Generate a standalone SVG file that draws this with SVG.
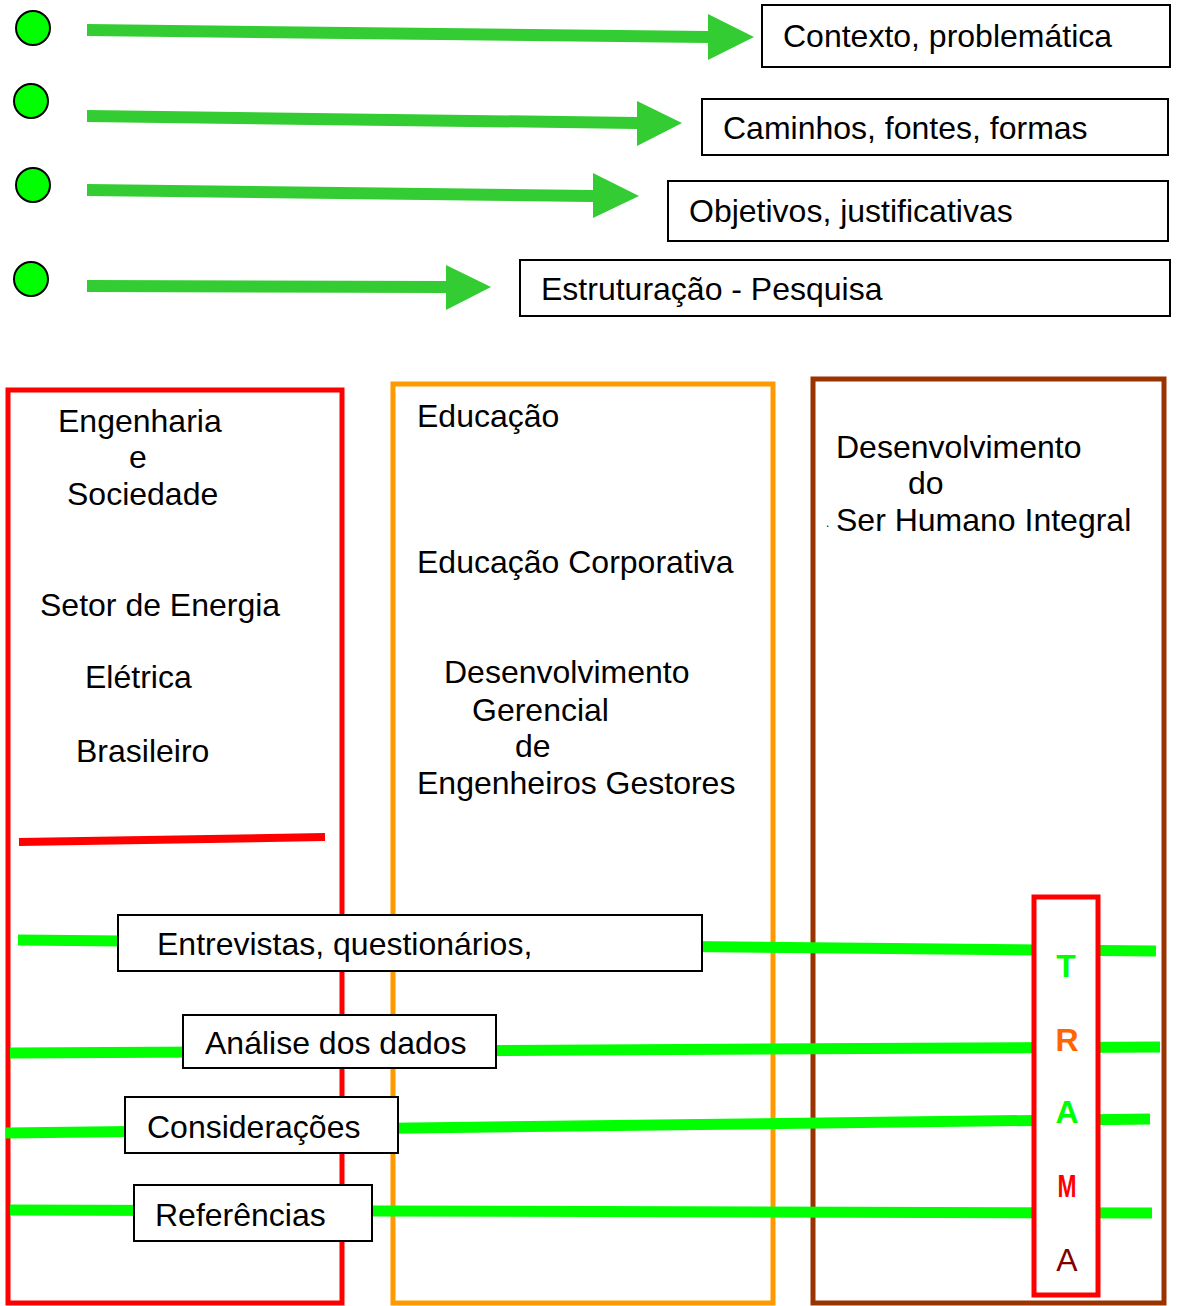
<svg xmlns="http://www.w3.org/2000/svg" width="1178" height="1306" viewBox="0 0 1178 1306">
<style>
.t{font-family:"Liberation Sans",Arial,sans-serif;font-size:32px;fill:#000}
.tb{font-family:"Liberation Sans",Arial,sans-serif;font-size:32px;font-weight:bold}
.box{fill:#fff;stroke:#000;stroke-width:2}
.dot{fill:#00ff00;stroke:#000;stroke-width:2}
.arr{fill:#33cc33}
.gl{stroke:#00ff00;stroke-width:11;fill:none}
.col{fill:none;stroke-width:5}
</style>
<rect width="1178" height="1306" fill="#fff"/>
<g id="bullets">
<circle class="dot" cx="33" cy="28" r="17"/>
<circle class="dot" cx="31" cy="101" r="17"/>
<circle class="dot" cx="33" cy="185" r="17"/>
<circle class="dot" cx="31" cy="279" r="17"/>
</g>
<g id="columns">
<rect id="col-engenharia" class="col" x="8" y="390" width="334" height="913" stroke="#ff0000"/>
<rect id="col-educacao" class="col" x="393" y="384" width="380" height="919" stroke="#ff9900"/>
<rect id="col-desenvolvimento" class="col" x="813" y="379" width="351" height="924" stroke="#993300"/>
<line x1="19" y1="842" x2="325" y2="837" stroke="#ff0000" stroke-width="8"/>
</g>
<g id="connectors">
<polygon class="arr" points="87,24 708,31 708,14 754,37 708,60 708,43 87,36"/>
<polygon class="arr" points="87,110 637,117 637,101 682,123 637,146 637,129 87,122"/>
<polygon class="arr" points="87,184 593,190 593,173 639,196 593,218 593,202 87,196"/>
<polygon class="arr" points="87,280 446,281 446,265 491,287 446,310 446,293 87,292"/>
<line class="gl" x1="18" y1="940" x2="1156" y2="951"/>
<line class="gl" x1="10" y1="1053" x2="1160" y2="1047"/>
<line class="gl" x1="6" y1="1133" x2="1150" y2="1119"/>
<line class="gl" x1="10" y1="1210" x2="1152" y2="1213"/>
</g>
<g id="node-contexto"><rect class="box" x="762" y="5" width="408" height="62"/><text class="t" x="783" y="47">Contexto, problemática</text></g>
<g id="node-caminhos"><rect class="box" x="702" y="99" width="466" height="56"/><text class="t" x="723" y="139">Caminhos, fontes, formas</text></g>
<g id="node-objetivos"><rect class="box" x="668" y="181" width="500" height="60"/><text class="t" x="689" y="222">Objetivos, justificativas</text></g>
<g id="node-estruturacao"><rect class="box" x="520" y="260" width="650" height="56"/><text class="t" x="541" y="300">Estruturação - Pesquisa</text></g>
<g id="text-engenharia">
<text class="t" x="58" y="432">Engenharia</text>
<text class="t" x="129" y="468">e</text>
<text class="t" x="67" y="505">Sociedade</text>
<text class="t" x="40" y="616">Setor de Energia</text>
<text class="t" x="85" y="688">Elétrica</text>
<text class="t" x="76" y="762">Brasileiro</text>
</g>
<g id="text-educacao">
<text class="t" x="417" y="427">Educação</text>
<text class="t" x="417" y="573">Educação Corporativa</text>
<text class="t" x="444" y="683">Desenvolvimento</text>
<text class="t" x="472" y="721">Gerencial</text>
<text class="t" x="515" y="757">de</text>
<text class="t" x="417" y="794">Engenheiros Gestores</text>
</g>
<g id="text-desenvolvimento">
<text class="t" x="836" y="458">Desenvolvimento</text>
<text class="t" x="908" y="494">do</text>
<text class="t" x="826" y="527" style="font-size:12px">.</text>
<text class="t" x="836" y="531">Ser Humano Integral</text>
</g>
<g id="node-entrevistas"><rect class="box" x="118" y="915" width="584" height="56"/><text class="t" x="157" y="955">Entrevistas, questionários,</text></g>
<g id="node-analise"><rect class="box" x="183" y="1015" width="313" height="53"/><text class="t" x="205" y="1054">Análise dos dados</text></g>
<g id="node-consideracoes"><rect class="box" x="125" y="1097" width="273" height="56"/><text class="t" x="147" y="1138">Considerações</text></g>
<g id="node-referencias"><rect class="box" x="134" y="1185" width="238" height="56"/><text class="t" x="155" y="1226">Referências</text></g>
<g id="node-trama">
<rect x="1034" y="897" width="64" height="398" fill="#fff" stroke="#ff0000" stroke-width="5"/>
<text class="tb" x="1066" y="977" text-anchor="middle" fill="#00ff00">T</text>
<text class="tb" x="1067" y="1051" text-anchor="middle" fill="#ff6600">R</text>
<text class="tb" x="1067" y="1123" text-anchor="middle" fill="#00ff00">A</text>
<text class="tb" x="1067" y="1197" text-anchor="middle" fill="#ff0000" textLength="19" lengthAdjust="spacingAndGlyphs">M</text>
<text class="t" x="1067" y="1271" text-anchor="middle" fill="#800000" style="fill:#800000">A</text>
</g>
</svg>
